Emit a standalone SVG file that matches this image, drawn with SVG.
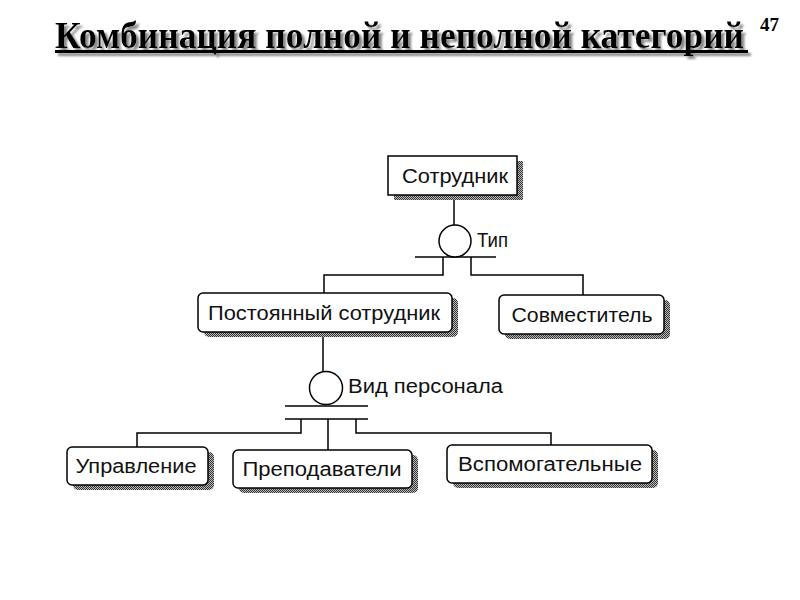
<svg xmlns="http://www.w3.org/2000/svg" width="800" height="600" viewBox="0 0 800 600">
<defs>
<pattern id="dith" width="2" height="2" patternUnits="userSpaceOnUse">
<rect x="0" y="0" width="1" height="1" fill="#333"/>
<rect x="1" y="1" width="1" height="1" fill="#333"/>
<rect x="1" y="0" width="1" height="1" fill="#bbb"/>
<rect x="0" y="1" width="1" height="1" fill="#bbb"/>
</pattern>
<filter id="tshadow" filterUnits="userSpaceOnUse" x="50" y="10" width="705" height="52">
<feGaussianBlur in="SourceAlpha" stdDeviation="1.2" result="b"/>
<feOffset in="b" dx="3" dy="3" result="o"/>
<feFlood flood-color="#888"/>
<feComposite in2="o" operator="in" result="s"/>
<feMerge><feMergeNode in="s"/><feMergeNode in="SourceGraphic"/></feMerge>
</filter>
</defs>
<style>
.title{font-family:"Liberation Serif","Times New Roman",serif;font-weight:bold;font-size:35px;}
.lbl{font-family:"Liberation Sans",Arial,sans-serif;font-size:20px;fill:#111;}
.box{fill:#fff;stroke:#000;stroke-width:1.5;}
.shadow{fill:url(#dith);}
.ln{fill:none;stroke:#000;stroke-width:1.5;}
.circ{fill:#fff;stroke:#000;stroke-width:1.5;}
</style>
<rect width="800" height="600" fill="#fff"/>
<g id="title">
<g filter="url(#tshadow)">
<text class="title" transform="translate(55,48) scale(1,1.09)" x="0" y="0" textLength="689" lengthAdjust="spacingAndGlyphs">Комбинация полной и неполной категорий</text>
<rect x="55" y="50" width="693" height="3" fill="#000"/>
</g>
</g>
<g id="pagenum">
<text x="760" y="31" font-family="Liberation Serif, serif" font-weight="bold" font-size="19" textLength="19" lengthAdjust="spacingAndGlyphs">47</text>
</g>
<g id="connectors">
<path class="ln" d="M454,195 V225"/>
<path class="ln" d="M415,257 H496"/>
<path class="ln" d="M443,257 V275 H324 V293"/>
<path class="ln" d="M471,257 V275 H583 V295"/>
<path class="ln" d="M323,332 V371"/>
<path class="ln" d="M285,406 H368"/>
<path class="ln" d="M285,419 H368"/>
<path class="ln" d="M301,419 V433 H137 V447"/>
<path class="ln" d="M328,419 V450"/>
<path class="ln" d="M356,419 V433 H551 V445"/>
</g>
<g id="cat1">
<circle class="circ" cx="455" cy="241" r="16"/>
<text class="lbl" x="477" y="247" textLength="31" lengthAdjust="spacingAndGlyphs">Тип</text>
</g>
<g id="cat2">
<circle class="circ" cx="326" cy="388" r="16.5"/>
<text class="lbl" x="348" y="393" textLength="155" lengthAdjust="spacingAndGlyphs">Вид персонала</text>
</g>
<g id="sotrudnik">
<rect class="shadow" x="394" y="161" width="129" height="39"/>
<rect class="box" x="388" y="156" width="129" height="39"/>
<text class="lbl" x="455" y="183" text-anchor="middle" textLength="106" lengthAdjust="spacingAndGlyphs">Сотрудник</text>
</g>
<g id="postoyanny">
<rect class="shadow" x="204" y="298" width="254" height="39" rx="5"/>
<rect class="box" x="198" y="293" width="254" height="39" rx="5"/>
<text class="lbl" x="324" y="320" text-anchor="middle" textLength="232" lengthAdjust="spacingAndGlyphs">Постоянный сотрудник</text>
</g>
<g id="sovmestitel">
<rect class="shadow" x="505" y="300" width="165" height="39" rx="5"/>
<rect class="box" x="499" y="295" width="165" height="39" rx="5"/>
<text class="lbl" x="582" y="322" text-anchor="middle" textLength="141" lengthAdjust="spacingAndGlyphs">Совместитель</text>
</g>
<g id="upravlenie">
<rect class="shadow" x="73" y="452" width="141" height="38" rx="5"/>
<rect class="box" x="67" y="447" width="141" height="38" rx="5"/>
<text class="lbl" x="136" y="473" text-anchor="middle" textLength="121" lengthAdjust="spacingAndGlyphs">Управление</text>
</g>
<g id="prepodavateli">
<rect class="shadow" x="239" y="455" width="179" height="38" rx="5"/>
<rect class="box" x="233" y="450" width="179" height="38" rx="5"/>
<text class="lbl" x="322" y="476" text-anchor="middle" textLength="159" lengthAdjust="spacingAndGlyphs">Преподаватели</text>
</g>
<g id="vspomogatelnye">
<rect class="shadow" x="453" y="450" width="205" height="38" rx="5"/>
<rect class="box" x="447" y="445" width="205" height="38" rx="5"/>
<text class="lbl" x="550" y="471" text-anchor="middle" textLength="184" lengthAdjust="spacingAndGlyphs">Вспомогательные</text>
</g>
</svg>
